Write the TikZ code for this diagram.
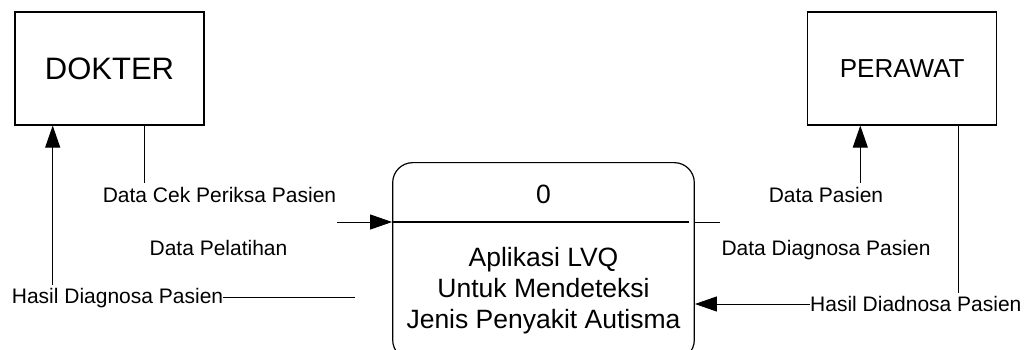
\documentclass[tikz,border=0pt]{standalone}
\usepackage{fontspec}
\setmainfont{Liberation Sans}
\usetikzlibrary{arrows.meta}
\begin{document}
\begin{tikzpicture}[x=1pt,y=-1pt,
  entity/.style={draw,line width=1.2pt,minimum width=189pt,minimum height=113pt,inner sep=0pt},
  flowlabel/.style={inner sep=0pt,font=\fontsize{21}{25}\selectfont},
  flow/.style={line width=1pt},
  flowarrow/.style={line width=1pt,-{Triangle[length=22pt,width=15pt]}}]
\useasboundingbox (0,0) rectangle (1026,350);

% external entities
\node[entity,font=\fontsize{31}{36}\selectfont] (dok) at (109.5,68.5) {DOKTER};
\node[entity,font=\fontsize{26}{31}\selectfont] (per) at (902.2,68.5) {PERAWAT};

% process 0
\node[draw,line width=1.2pt,rounded corners=20pt,minimum width=301.6pt,minimum height=197.3pt,inner sep=0pt] (proc) at (543.5,261.3) {};
\coordinate (divL) at (392.7,221.7);
\coordinate (divR) at (689,221.7);
\draw[line width=2pt] (divL) -- (divR);
\node[inner sep=0pt,font=\fontsize{26.5}{31}\selectfont,anchor=base] (pnum) at (543.5,204) {0};
% the base anchor of a multi-line node sits on its last line
\node[align=center,inner sep=0pt,font=\fontsize{26.5}{31}\selectfont,anchor=base] (ptext) at (543.5,328) {Aplikasi LVQ\\Untuk Mendeteksi\\Jenis Penyakit Autisma};

% flow labels
\node[flowlabel,anchor=base] (lcek) at (219.5,203) {Data Cek Periksa Pasien};
\node[flowlabel,anchor=base] (lpel) at (218.5,255) {Data Pelatihan};
\node[flowlabel,anchor=base west] (lhdl) at (11.7,303) {Hasil Diagnosa Pasien};
\node[flowlabel,anchor=base] (lpas) at (826,203) {Data Pasien};
\node[flowlabel,anchor=base] (ldd) at (826,255) {Data Diagnosa Pasien};
\node[flowlabel,anchor=base west] (lhdr) at (810,311.7) {Hasil Diadnosa Pasien};

% connector end points
\coordinate (cekTop) at (144,183);
\coordinate (cekIn) at (337,222);
\coordinate (hdlBot) at (52.7,285);
\coordinate (hdlEnd) at (355,297.3);
\coordinate (pasBot) at (860.3,183);
\coordinate (ddOut) at (720,222);
\coordinate (hdrBot) at (958.7,292.7);

% flows on the DOKTER side
\draw[flow] (cekTop |- dok.south) -- (cekTop);
\draw[flowarrow] (cekIn) -- (cekIn -| proc.west);
\draw[flowarrow] (hdlBot) -- (hdlBot |- dok.south);
\draw[flow] (lhdl.east |- hdlEnd) -- (hdlEnd);

% flows on the PERAWAT side
\draw[flowarrow] (pasBot) -- (pasBot |- per.south);
\draw[flow] (proc.east |- ddOut) -- (ddOut);
\draw[flow] (hdrBot |- per.south) -- (hdrBot);
\draw[flowarrow] (lhdr.west |- 0,304) -- (proc.east |- 0,304);
\end{tikzpicture}
\end{document}
